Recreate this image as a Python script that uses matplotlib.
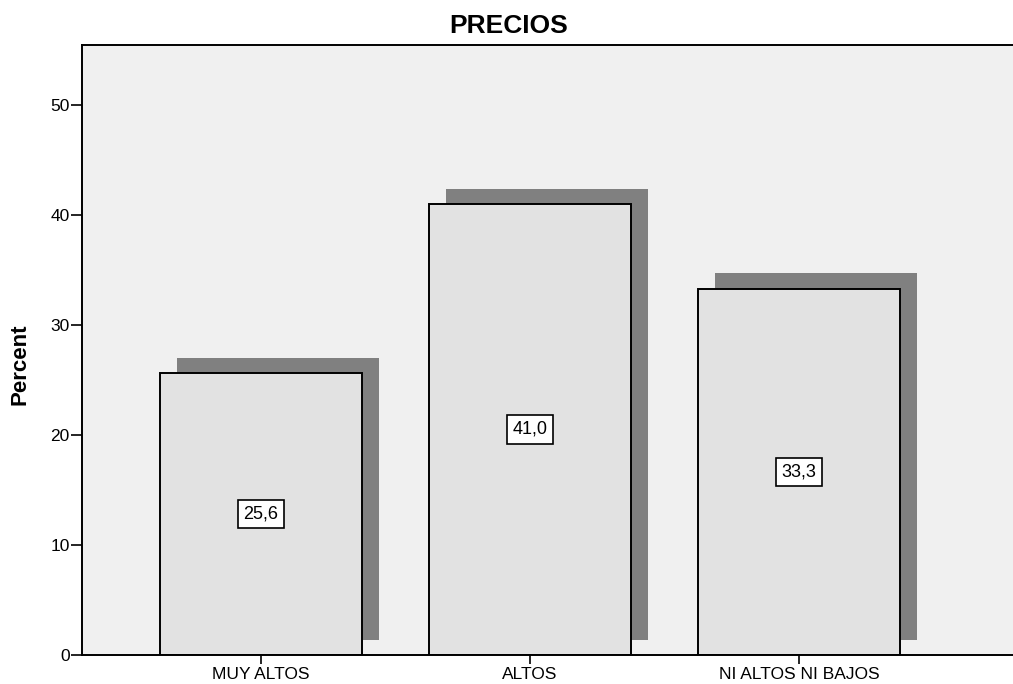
import matplotlib
matplotlib.use("Agg")
import matplotlib.pyplot as plt
from matplotlib.patches import Rectangle

plt.rcParams['font.family'] = ['Liberation Sans', 'DejaVu Sans']

# Percent of answers per price category
categories = ["MUY ALTOS", "ALTOS", "NI ALTOS NI BAJOS"]
percent = [25.6, 41.0, 33.3]
value_labels = ["25,6", "41,0", "33,3"]
y_ticks = [0, 10, 20, 30, 40, 50]

bar_width = 0.75
shadow_dx = 0.063
shadow_dy = 1.4

fig = plt.figure(figsize=(10.13, 6.84), dpi=100)
ax = fig.add_axes([82 / 1013, 29 / 684, 931 / 1013, 610 / 684])
ax.set_facecolor("#f0f0f0")

for i, h in enumerate(percent):
    # drop shadow behind each bar
    ax.add_patch(Rectangle((i - bar_width / 2 + shadow_dx, shadow_dy), bar_width, h,
                           facecolor="#808080", edgecolor="none", zorder=1))
ax.bar(range(len(categories)), percent, width=bar_width, color="#e2e2e2",
       edgecolor="black", linewidth=1.4, zorder=2)

for i, (h, lab) in enumerate(zip(percent, value_labels)):
    ax.text(i, h / 2, lab, ha="center", va="center", fontsize=13, zorder=3,
            bbox=dict(boxstyle="square,pad=0.32", facecolor="white",
                      edgecolor="black", linewidth=1.2))

ax.set_xlim(-0.665, 2.796)
ax.set_ylim(0, 55.45)
ax.set_xticks(range(len(categories)))
ax.set_xticklabels(categories)
ax.set_yticks(y_ticks)
ax.tick_params(axis="y", length=8, width=1.2, labelsize=12.5, pad=1)
ax.tick_params(axis="x", length=6.5, width=1.2, labelsize=12.5, pad=2)

for side in ["left", "bottom", "top"]:
    ax.spines[side].set_linewidth(1.4)
    ax.spines[side].set_color("black")
ax.spines["right"].set_visible(False)

fig.text(509 / 1013, 1 - 26 / 684, "PRECIOS", ha="center", va="center",
         fontsize=19, fontweight="bold")
fig.text(20 / 1013, 1 - 364 / 684, "Percent", ha="center", va="center",
         rotation=90, fontsize=16, fontweight="bold")

fig.savefig("out.png", dpi=100)
